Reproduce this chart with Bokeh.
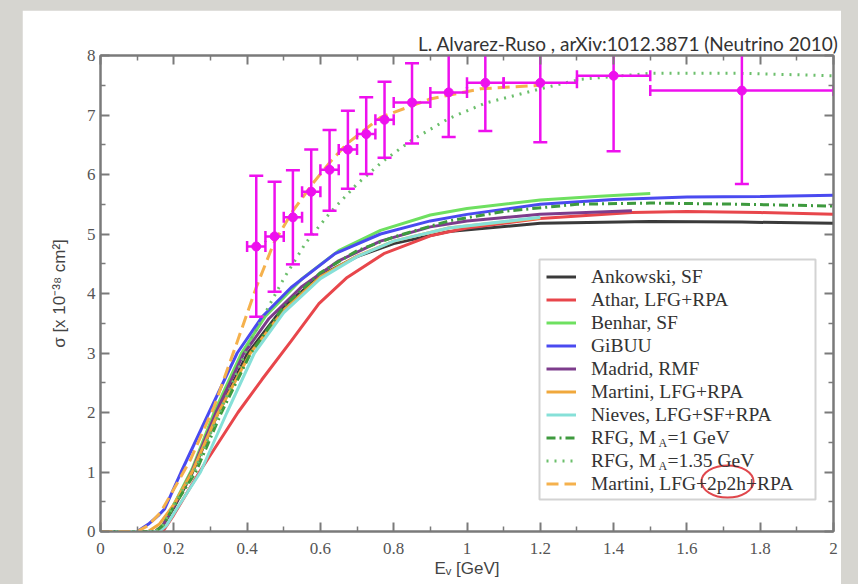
import numpy as np
from bokeh.plotting import figure
from bokeh.models import (Range1d, LinearAxis, FixedTicker, Legend, LegendItem, Label, Title,
                          BoxAnnotation)
from bokeh.layouts import column
from bokeh.embed import file_html
from bokeh.resources import INLINE

# ---------------- data (sigma in 10^-38 cm^2, E in GeV) ----------------
data_E = [0.425, 0.475, 0.525, 0.575, 0.625, 0.675, 0.725, 0.775, 0.85, 0.95, 1.05, 1.2, 1.4, 1.75]
data_sig = [4.79, 4.96, 5.28, 5.71, 6.08, 6.42, 6.68, 6.92, 7.21, 7.38, 7.54, 7.54, 7.66, 7.41]
data_lo = [3.61, 4.03, 4.49, 4.99, 5.39, 5.76, 6.01, 6.28, 6.52, 6.63, 6.73, 6.54, 6.39, 5.84]
data_hi = [5.98, 5.88, 6.07, 6.42, 6.75, 7.07, 7.30, 7.56, 7.87, 8.12, 8.30, 8.50, 8.90, 9.00]
bin_lo = [0.40, 0.45, 0.50, 0.55, 0.60, 0.65, 0.70, 0.75, 0.80, 0.90, 1.00, 1.10, 1.30, 1.50]
bin_hi = [0.45, 0.50, 0.55, 0.60, 0.65, 0.70, 0.75, 0.80, 0.90, 1.00, 1.10, 1.30, 1.50, 2.00]

ank_E = [0, 0.15, 0.17, 0.2, 0.25, 0.32, 0.4, 0.5, 0.6, 0.7, 0.8, 0.95, 1.2, 1.5, 1.75, 2.0]
ank_s = [0, 0, 0.1, 0.4, 0.98, 1.98, 2.98, 3.78, 4.3, 4.62, 4.84, 5.04, 5.18, 5.21, 5.2, 5.18]

ath_E = [0, 0.17, 0.2, 0.27, 0.375, 0.44, 0.52, 0.596, 0.673, 0.773, 0.9, 1.0, 1.2, 1.45, 1.6, 1.8, 2.0]
ath_s = [0, 0, 0.28, 1.0, 2.0, 2.55, 3.2, 3.83, 4.27, 4.67, 4.97, 5.1, 5.26, 5.36, 5.38, 5.36, 5.33]

ben_E = [0, 0.15, 0.17, 0.2, 0.25, 0.31, 0.385, 0.45, 0.55, 0.65, 0.764, 0.9, 1.0, 1.2, 1.35, 1.5]
ben_s = [0, 0, 0.1, 0.45, 1.05, 2.0, 3.0, 3.62, 4.25, 4.72, 5.06, 5.32, 5.43, 5.57, 5.63, 5.68]

gib_E = [0, 0.10, 0.13, 0.16, 0.175, 0.22, 0.296, 0.373, 0.44, 0.52, 0.64, 0.764, 0.9, 1.0, 1.2, 1.4, 1.6, 1.8, 2.0]
gib_s = [0, 0, 0.12, 0.28, 0.38, 1.0, 2.0, 3.0, 3.6, 4.1, 4.67, 5.0, 5.22, 5.33, 5.5, 5.58, 5.62, 5.63, 5.65]

mad_E = [0, 0.15, 0.17, 0.2, 0.25, 0.315, 0.39, 0.46, 0.55, 0.65, 0.764, 0.9, 1.0, 1.2, 1.45]
mad_s = [0, 0, 0.1, 0.42, 1.02, 2.0, 2.98, 3.58, 4.12, 4.55, 4.88, 5.12, 5.22, 5.33, 5.39]

mar_E = [0, 0.13, 0.16, 0.2, 0.25, 0.32, 0.409, 0.5, 0.6, 0.7, 0.8, 0.95, 1.2]
mar_s = [0, 0, 0.12, 0.45, 1.0, 1.98, 3.0, 3.72, 4.28, 4.63, 4.88, 5.1, 5.27]

nie_E = [0, 0.16, 0.18, 0.21, 0.273, 0.345, 0.42, 0.5, 0.6, 0.7, 0.8, 0.95, 1.2]
nie_s = [0, 0, 0.1, 0.4, 1.0, 2.0, 3.0, 3.68, 4.25, 4.62, 4.88, 5.1, 5.28]

rf1_E = [0, 0.15, 0.17, 0.2, 0.26, 0.33, 0.41, 0.5, 0.6, 0.7, 0.8, 0.95, 1.1, 1.3, 1.5, 1.75, 2.0]
rf1_s = [0, 0, 0.1, 0.42, 1.0, 2.0, 3.0, 3.78, 4.35, 4.72, 4.95, 5.22, 5.38, 5.5, 5.52, 5.5, 5.47]

rf2_E = [0, 0.15, 0.17, 0.2, 0.255, 0.325, 0.414, 0.5, 0.56, 0.628, 0.70, 0.77, 0.85, 0.95, 1.05, 1.2, 1.31, 1.5, 1.75, 2.0]
rf2_s = [0, 0, 0.1, 0.45, 1.0, 2.0, 3.27, 4.25, 4.85, 5.37, 5.84, 6.22, 6.58, 6.94, 7.2, 7.44, 7.6, 7.7, 7.7, 7.66]

mp_E = [0, 0.1, 0.13, 0.164, 0.245, 0.31, 0.368, 0.426, 0.473, 0.523, 0.578, 0.628, 0.673, 0.764, 0.9, 1.037, 1.2]
mp_s = [0, 0, 0.1, 0.32, 1.2, 2.1, 3.1, 4.12, 4.85, 5.37, 5.84, 6.22, 6.52, 6.96, 7.27, 7.44, 7.5]

x_ticks = [0, 0.2, 0.4, 0.6, 0.8, 1.0, 1.2, 1.4, 1.6, 1.8, 2.0]
x_tick_labels = ["0", "0.2", "0.4", "0.6", "0.8", "1", "1.2", "1.4", "1.6", "1.8", "2"]
y_ticks = [0, 1, 2, 3, 4, 5, 6, 7, 8]

labels = ["Ankowski, SF", "Athar, LFG+RPA", "Benhar, SF", "GiBUU", "Madrid, RMF",
          "Martini, LFG+RPA", "Nieves, LFG+SF+RPA", "RFG, M\u2002\u200a=1 GeV",
          "RFG, M\u2002\u200a=1.35 GeV", "Martini, LFG+2p2h+RPA"]

# ---------------- layout constants (page pixels of the frame) ----------------
FX0, FX1, FY0, FY1 = 100.0, 833.0, 55.0, 531.0


def px2x(px):
    return (px - FX0) / (FX1 - FX0) * 2.0


def px2y(py):
    return (FY1 - py) / (FY1 - FY0) * 8.0


p = figure(width=819, height=574, x_range=Range1d(0, 2), y_range=Range1d(0, 8),
           output_backend="svg", toolbar_location=None, title=None,
           min_border_left=78, min_border_right=8, min_border_top=45, min_border_bottom=53,
           background_fill_color="white", border_fill_color="white",
           margin=(10, 17, 0, 22))
p.grid.visible = False
p.outline_line_color = "#7a7a7a"
p.outline_line_width = 2

bottom = p.below[0]
left = p.left[0]

xt = FixedTicker(ticks=x_ticks, minor_ticks=list(np.round(np.arange(0.1, 2.0, 0.2), 2)))
yt = FixedTicker(ticks=y_ticks, minor_ticks=list(np.arange(0.5, 8.0, 1.0)))

top = LinearAxis(ticker=xt)
right = LinearAxis(ticker=yt)
p.add_layout(top, "above")
p.add_layout(right, "right")

bottom.ticker = xt
left.ticker = yt
bottom.major_label_overrides = {t: l for t, l in zip(x_ticks, x_tick_labels)}

for ax in [bottom, left, top, right]:
    ax.axis_line_color = "#7a7a7a"
    ax.axis_line_width = 2
    ax.major_tick_line_color = "#7a7a7a"
    ax.major_tick_line_width = 2
    ax.minor_tick_line_color = "#7a7a7a"
    ax.minor_tick_line_width = 1.5
    ax.major_tick_in = 9
    ax.major_tick_out = 0
    ax.minor_tick_in = 5
    ax.minor_tick_out = 0
    ax.major_label_text_font = "Liberation Serif"
    ax.major_label_text_font_size = "17px"
    ax.major_label_text_color = "#555555"

for ax in [top, right]:
    ax.major_label_text_font_size = "1px"
    ax.major_label_text_color = None
    ax.major_label_standoff = 0

bottom.major_label_standoff = 11
left.major_label_standoff = 5
bottom.axis_label = "E\u1d65 [GeV]"
left.axis_label = "\u03c3 [x 10\u207b\u00b3\u2078 cm\u00b2]"
for ax in [bottom, left]:
    ax.axis_label_text_font = "Liberation Sans"
    ax.axis_label_text_font_size = "17px"
    ax.axis_label_text_font_style = "normal"
    ax.axis_label_text_color = "#444444"
bottom.axis_label_standoff = 2
left.axis_label_standoff = 15

title = Title(text="L. Alvarez-Ruso , arXiv:1012.3871 (Neutrino 2010)", align="right",
              text_font="Lato", text_font_size="19px", text_font_style="normal",
              text_color="#333333", standoff=2, offset=-5)
p.add_layout(title, "above")

# ---------------- curves ----------------
W = 3
curves = [
    (ank_E, ank_s, "#3a3a3a", "solid"),
    (ath_E, ath_s, "#e8464b", "solid"),
    (ben_E, ben_s, "#6ee060", "solid"),
    (gib_E, gib_s, "#4a4af0", "solid"),
    (mad_E, mad_s, "#7d3c8c", "solid"),
    (mar_E, mar_s, "#f0a83c", "solid"),
    (nie_E, nie_s, "#86e0d8", "solid"),
    (rf1_E, rf1_s, "#3e9a3e", "9 4 2 4"),
    (rf2_E, rf2_s, "#6cbf6c", "2 6"),
    (mp_E, mp_s, "#f5b14d", "12 6"),
]
renderers = []
for xs, ys, col, dash in curves:
    r = p.line(xs, ys, line_color=col, line_width=W, line_dash=dash)
    renderers.append(r)

# ---------------- data points ----------------
MAG = "#ee10ee"
p.segment(x0=data_E, y0=data_lo, x1=data_E, y1=data_hi, line_color=MAG, line_width=2.5)
p.segment(x0=bin_lo, y0=data_sig, x1=bin_hi, y1=data_sig, line_color=MAG, line_width=2.5)
p.scatter(x=data_E, y=data_lo, marker="dash", size=14, line_color=MAG, line_width=2.5)
p.scatter(x=data_E, y=data_hi, marker="dash", size=14, line_color=MAG, line_width=2.5)
p.scatter(x=bin_lo, y=data_sig, marker="dash", angle=np.pi / 2, size=11, line_color=MAG, line_width=2.5)
p.scatter(x=bin_hi, y=data_sig, marker="dash", angle=np.pi / 2, size=11, line_color=MAG, line_width=2.5)
p.scatter(x=data_E, y=data_sig, marker="circle", size=9, fill_color=MAG, line_color=MAG)

# ---------------- legend ----------------
# frame of the legend box (page pixels)
LB_L, LB_R, LB_T, LB_B = 539, 815, 259, 499
p.add_layout(BoxAnnotation(left=px2x(LB_L), right=px2x(LB_R), top=px2y(LB_T), bottom=px2y(LB_B),
                           fill_alpha=0, line_color="#6e6e6e", line_width=2))

legend = Legend(items=[LegendItem(label=l, renderers=[r]) for l, r in zip(labels, renderers)],
                location=(446, 36), padding=6, spacing=0, margin=0,
                glyph_width=30, glyph_height=23, label_height=23, label_standoff=15,
                label_text_font="Liberation Serif", label_text_font_size="19.5px",
                label_text_color="#333333", border_line_color=None,
                background_fill_alpha=0.0)
p.add_layout(legend)

for row_py in [442.5, 465.5]:
    p.add_layout(Label(x=px2x(658), y=px2y(row_py), text="A", text_font="Liberation Serif",
                       text_font_size="12px", text_color="#333333", text_baseline="middle"))

p.ellipse(x=[px2x(727)], y=[px2y(481)], width=52, height=32, width_units="screen",
          height_units="screen", fill_alpha=0, line_color="#e0474c", line_width=2)

page = column(p, width=858, height=584, styles={"background-color": "#d6d5d0"})
open("out.html", "w").write(file_html(page, INLINE))
